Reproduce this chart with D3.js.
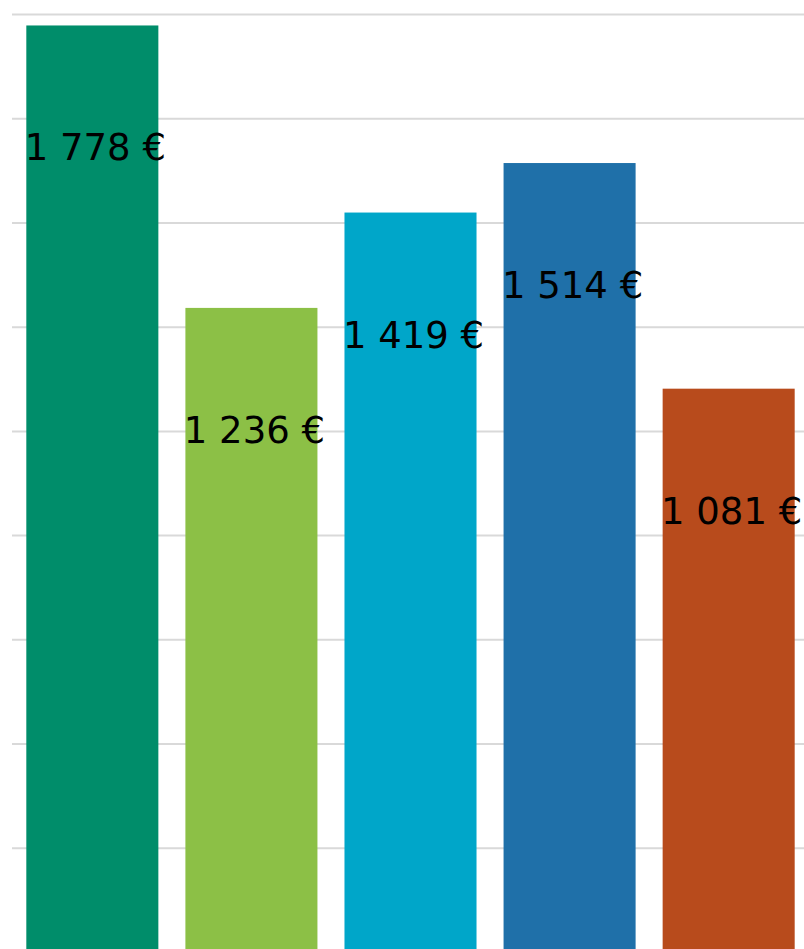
<!DOCTYPE html>
<html>
<head>
<meta charset="utf-8">
<script src="https://cdn.jsdelivr.net/npm/d3@7"></script>
<style>
	body { margin: 0; background: #fff; overflow: hidden; }
	.grid line { stroke: #d9d9d9; stroke-width: 2; }
	.grid .domain { display: none; }
	.label { font-family: "DejaVu Sans", Verdana, sans-serif; font-size: 37px; fill: #000; }
</style>
</head>
<body>
<div id="chart"></div>
<script>
var categories = ["A", "B", "C", "D", "E"];
var values = [1778, 1236, 1419, 1514, 1081];
var bar_colors = ["#008d6a", "#8cc046", "#00a6c9", "#1f70a9", "#b84b1c"];
var tick_values = [200, 400, 600, 800, 1000, 1200, 1400, 1600, 1800];

var width = 804,
	height = 949;

var data = categories.map(function (c, i) {
	return { cat: c, value: values[i], color: bar_colors[i] };
});

var svg = d3.select("#chart")
	.append("svg")
	.attr("width", width)
	.attr("height", height);

var x_scale = d3.scaleBand()
	.domain(categories)
	.range([12, 809])
	.paddingInner(0.17)
	.paddingOuter(0.09);

var y_scale = d3.scaleLinear()
	.domain([0, 1800])
	.range([952, 14]);

// gridlines
svg.append("g")
	.attr("class", "grid")
	.attr("transform", "translate(12,0)")
	.call(d3.axisLeft(y_scale)
		.tickValues(tick_values)
		.tickSize(-(width - 12))
		.tickFormat(""));

// bars
svg.selectAll(".bar")
	.data(data)
	.enter()
	.append("rect")
	.attr("class", "bar")
	.attr("x", function (d) { return x_scale(d.cat); })
	.attr("y", function (d) { return y_scale(d.value); })
	.attr("width", x_scale.bandwidth())
	.attr("height", function (d) { return y_scale(0) - y_scale(d.value); })
	.attr("fill", function (d) { return d.color; });

// value labels
var fmt = function (v) {
	return d3.format(",")(v).replace(/,/g, " ") + " €";
};

svg.selectAll(".label")
	.data(data)
	.enter()
	.append("text")
	.attr("class", "label")
	.attr("text-anchor", "middle")
	.attr("x", function (d) { return x_scale(d.cat) + x_scale.bandwidth() / 2 + 3; })
	.attr("y", function (d) { return y_scale(d.value) + 135; })
	.text(function (d) { return fmt(d.value); });
</script>
</body>
</html>
